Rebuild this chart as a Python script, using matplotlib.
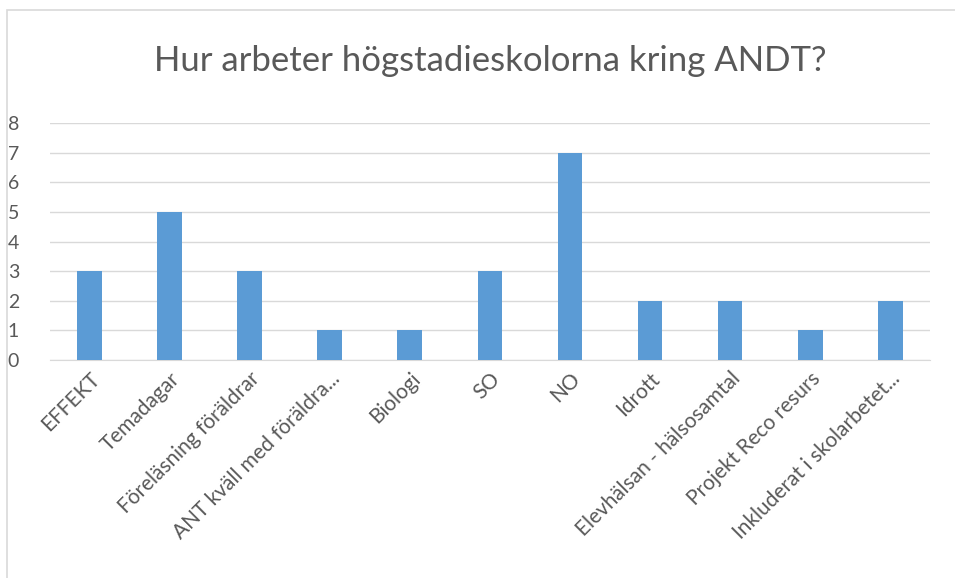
import matplotlib
matplotlib.use('Agg')
import matplotlib.pyplot as plt
from matplotlib.patches import Rectangle

categories = ['EFFEKT', 'Temadagar', 'Föreläsning föräldrar',
              'ANT kväll med föräldra...', 'Biologi', 'SO', 'NO', 'Idrott',
              'Elevhälsan - hälsosamtal', 'Projekt Reco resurs',
              'Inkluderat i skolarbetet...']
values = [3, 5, 3, 1, 1, 3, 7, 2, 2, 1, 2]
yticks = list(range(9))

plt.rcParams['font.family'] = ['Lato', 'DejaVu Sans']

fig = plt.figure(figsize=(9.55, 5.78), dpi=100)
ax = fig.add_axes([0.052, 0.377, 0.922, 0.41])

x = list(range(len(categories)))
ax.bar(x, values, width=0.31, color='#5b9bd5', zorder=3)
ax.set_xlim(-0.5, len(categories) - 0.5)
ax.set_ylim(0, 8)
ax.set_yticks(yticks)
ax.yaxis.grid(True, color='#d9d9d9', linewidth=1, zorder=0)
ax.set_xticks(x)
ax.set_xticklabels(categories, rotation=45, ha='right',
                   rotation_mode='anchor', fontsize=15, color='#595959')
ax.tick_params(axis='y', labelsize=14, labelcolor='#595959', length=0, pad=22)
ax.tick_params(axis='x', length=0, pad=6)
for side in ('top', 'right', 'left'):
        ax.spines[side].set_visible(False)
ax.spines['bottom'].set_color('#d9d9d9')

fig.text(0.513, 0.895, 'Hur arbeter högstadieskolorna kring ANDT?',
         ha='center', va='center', fontsize=25, color='#595959')

fig.patches.append(Rectangle((7 / 955, -0.01), 1.0, 1 - 10 / 578 + 0.01,
                             transform=fig.transFigure, fill=False,
                             edgecolor='#d9d9d9', linewidth=1.2))

fig.savefig('out.png', dpi=100, facecolor='white')
